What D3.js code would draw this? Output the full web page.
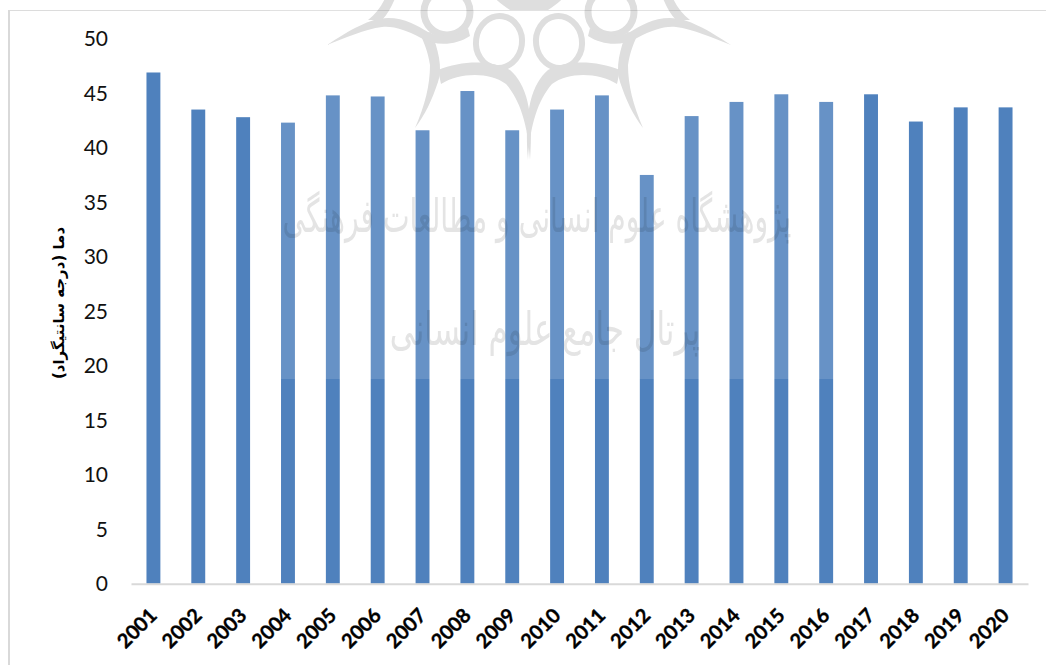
<!DOCTYPE html>
<html lang="fa">
<head>
<meta charset="utf-8">
<title>دما (درجه سانتیگراد)</title>
<script src="https://cdn.jsdelivr.net/npm/d3@7/dist/d3.min.js"></script>
<style>
  html, body { margin: 0; padding: 0; background: #fff; }
  svg { display: block; }
  .tick text { font-family: Lato, "Open Sans", sans-serif; fill: #111; }
</style>
</head>
<body>
<svg id="chart" width="1046" height="665"></svg>
<script>
// Annual temperature values, one per year
const years = ["2001","2002","2003","2004","2005","2006","2007","2008","2009","2010",
               "2011","2012","2013","2014","2015","2016","2017","2018","2019","2020"];
const temperatures = [46.9,43.5,42.8,42.3,44.8,44.7,41.6,45.2,41.6,43.5,
                      44.8,37.5,42.9,44.2,44.9,44.2,44.9,42.4,43.7,43.7];
const yTicks = [0,5,10,15,20,25,30,35,40,45,50];
const yTitle = "دما (درجه سانتیگراد)";
const stampLines = ["پژوهشگاه علوم انسانی و مطالعات فرهنگی", "پرتال جامع علوم انسانی"];

const svg = d3.select("#chart");
const plotLeft = 131, plotRight = 1028, plotBottom = 583.7, plotTop = 38.7;

const x = d3.scaleBand().domain(years).range([plotLeft, plotRight]).paddingInner(0.69).paddingOuter(0.345);
const y = d3.scaleLinear().domain([0, 50]).range([plotBottom, plotTop]);

// Outer frame: only the top and left edges are visible
svg.append("line").attr("x1", 9).attr("x2", 1046).attr("y1", 10.5).attr("y2", 10.5)
  .attr("stroke", "#dcdcdc").attr("stroke-width", 1);
svg.append("line").attr("x1", 9).attr("x2", 9).attr("y1", 10).attr("y2", 665)
  .attr("stroke", "#d9d9d9").attr("stroke-width", 2);

// Bars
svg.append("g").selectAll("rect").data(years).join("rect")
  .attr("x", d => x(d))
  .attr("width", x.bandwidth())
  .attr("y", (d, i) => y(temperatures[i]))
  .attr("height", (d, i) => y(0) - y(temperatures[i]))
  .attr("fill", "#4f81bd");

// Axes
const xAxis = svg.append("g").attr("transform", `translate(0,${plotBottom})`)
  .call(d3.axisBottom(x).tickSize(0));
xAxis.select(".domain").attr("stroke", "#d9d9d9").attr("stroke-width", 2);
xAxis.selectAll("text")
  .attr("x", 0).attr("y", 0).attr("dy", "0.35em")
  .attr("text-anchor", "middle")
  .attr("font-size", 20).attr("font-weight", 700)
  .attr("transform", "translate(-16.5,44.5) rotate(-45)")
  .style("font-family", "Lato, sans-serif").style("fill", "#000")
  .style("stroke", "#000").style("stroke-width", 0.35);

const yAxis = svg.append("g").attr("transform", `translate(${plotLeft},0)`)
  .call(d3.axisLeft(y).tickValues(yTicks).tickSize(0).tickFormat(d3.format("d")));
yAxis.select(".domain").remove();
yAxis.selectAll("text")
  .attr("x", -23).attr("dy", "0.33em")
  .attr("font-size", 21);

// Axis title
svg.append("text")
  .attr("transform", "translate(64,303) rotate(-90)")
  .attr("text-anchor", "middle")
  .attr("font-family", "'DejaVu Sans', sans-serif")
  .attr("font-weight", 700)
  .attr("font-size", 15)
  .attr("fill", "#000")
  .text(yTitle);

// Pale veil of the institutional stamp over the middle bars
svg.append("rect").attr("x", 270).attr("y", 0).attr("width", 570).attr("height", 379)
  .attr("fill", "#fff").attr("fill-opacity", 0.142);

// Institutional emblem, built as one half and mirrored about its axis
const stamp = svg.append("g").style("mix-blend-mode", "multiply");
const half = g => {
  g.append("ellipse").attr("cx", 499).attr("cy", 42).attr("rx", 23).attr("ry", 26)
    .attr("transform", "rotate(8 499 42)")
    .attr("fill", "none").attr("stroke", "#dedede").attr("stroke-width", 6);
  g.append("circle").attr("cx", 447).attr("cy", 12).attr("r", 23)
    .attr("fill", "none").attr("stroke", "#dedede").attr("stroke-width", 7);
  const shapes = [
    "M530,160 C528,125 520,100 506,84 C490,72 460,72 441,84 L438,70 C462,60 492,60 510,70 C526,84 534,110 530,160 Z",
    "M415,128 C425,105 430,85 430,65 C428,52 424,42 420,34 L431,32 C438,48 443,68 438,82 C432,100 425,115 415,128 Z",
    "M327,45 C350,30 370,18 388,18 C405,18 418,26 428,32 C440,38 455,38 468,28 L470,36 C455,46 435,46 421,38 C405,30 395,26 382,27 C365,29 345,38 327,45 Z",
    "M368,20 C376,14 382,6 386,-4 L396,-4 C392,6 388,14 382,20 Z",
    "M529,10 L510,10 C504,6 498,2 493,-4 L529,-4 Z"
  ];
  g.selectAll("path").data(shapes).join("path").attr("d", d => d).attr("fill", "#dedede");
};
stamp.append("g").call(half);
stamp.append("g").attr("transform", "translate(1058,0) scale(-1,1)").call(half);

// Calligraphic lines of the stamp, condensed to their narrow setting
const stampBox = [[537, 232, 0.613], [545, 345, 0.674]];
stamp.selectAll("text").data(stampLines).join("text")
  .attr("transform", (d, i) => `translate(${stampBox[i][0]},${stampBox[i][1]}) scale(${stampBox[i][2]},1)`)
  .attr("font-size", 46)
  .attr("font-family", "'DejaVu Sans', sans-serif")
  .attr("text-anchor", "middle")
  .attr("fill", "#e4e4e4")
  .text(d => d);
</script>
</body>
</html>
